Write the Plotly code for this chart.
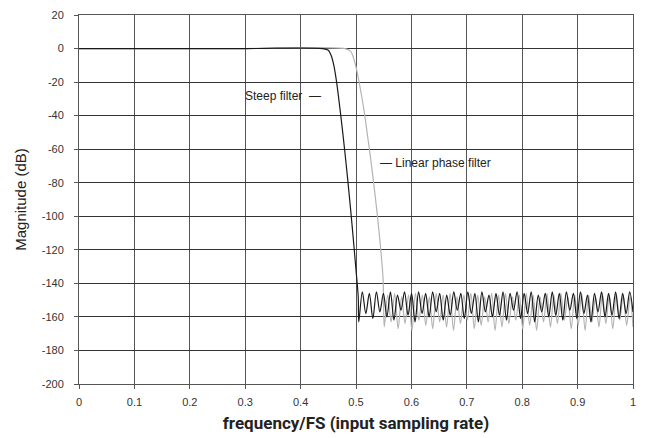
import plotly.graph_objects as go

# pass band / transition band (frequency/FS, dB)
steep_pass_f = [0.0, 0.30, 0.44, 0.45, 0.455, 0.46, 0.465, 0.47, 0.475, 0.48, 0.485, 0.49, 0.495, 0.50, 0.504]
steep_pass_db = [0, 0, 0, -1, -4, -10, -20, -33, -47, -62, -78, -95, -113, -132, -148]

linear_pass_f = [0.0, 0.30, 0.48, 0.49, 0.495, 0.50, 0.505, 0.51, 0.515, 0.52, 0.525, 0.53, 0.535, 0.54, 0.545, 0.549]
linear_pass_db = [0, 0, 0, -1.5, -5, -11, -19, -28, -38, -50, -62, -75, -89, -104, -121, -138]

# stop band ripple: nulls and lobe peaks
steep_null_f = [0.505, 0.5177, 0.5304, 0.5431, 0.5558, 0.5685, 0.5812, 0.5939, 0.6066, 0.6193,
                0.632, 0.6447, 0.6574, 0.6701, 0.6828, 0.6955, 0.7082, 0.7209, 0.7336, 0.7463,
                0.759, 0.7717, 0.7844, 0.7971, 0.8098, 0.8225, 0.8352, 0.8479, 0.8606, 0.8733,
                0.886, 0.8987, 0.9114, 0.9241, 0.9368, 0.9495, 0.9622, 0.9749, 0.9876, 1.0]
steep_null_db = [-163, -158, -161, -157, -160, -162, -156, -159, -163, -158,
                 -160, -157, -162, -159, -156, -161, -158, -163, -157, -160,
                 -159, -162, -156, -161, -158, -163, -157, -160, -159, -162,
                 -156, -161, -158, -163, -157, -160, -159, -161, -158, -157]
steep_peak_f = [0.5114, 0.5241, 0.5368, 0.5495, 0.5622, 0.5749, 0.5876, 0.6003, 0.613, 0.6257,
                0.6384, 0.6511, 0.6638, 0.6765, 0.6892, 0.7019, 0.7146, 0.7273, 0.74, 0.7527,
                0.7654, 0.7781, 0.7908, 0.8035, 0.8162, 0.8289, 0.8416, 0.8543, 0.867, 0.8797,
                0.8924, 0.9051, 0.9178, 0.9305, 0.9432, 0.9559, 0.9686, 0.9813, 0.994]
steep_peak_db = [-145, -146, -145, -146, -145, -147, -145, -146, -145, -146,
                 -145, -146, -147, -145, -146, -145, -146, -145, -147, -146,
                 -145, -146, -145, -146, -145, -147, -146, -145, -146, -145,
                 -146, -145, -147, -146, -145, -146, -145, -146, -145]

linear_null_f = [0.551, 0.5635, 0.576, 0.5885, 0.601, 0.6135, 0.626, 0.6385, 0.651, 0.6635,
                 0.676, 0.6885, 0.701, 0.7135, 0.726, 0.7385, 0.751, 0.7635, 0.776, 0.7885,
                 0.801, 0.8135, 0.826, 0.8385, 0.851, 0.8635, 0.876, 0.8885, 0.901, 0.9135,
                 0.926, 0.9385, 0.951, 0.9635, 0.976, 0.9885, 1.0]
linear_null_db = [-166, -163, -167, -164, -168, -162, -165, -167, -163, -166,
                  -168, -164, -162, -167, -165, -163, -168, -166, -164, -162,
                  -167, -165, -168, -163, -166, -164, -162, -167, -165, -168,
                  -163, -166, -164, -167, -162, -165, -166]
linear_peak_f = [0.5573, 0.5698, 0.5823, 0.5948, 0.6073, 0.6198, 0.6323, 0.6448, 0.6573, 0.6698,
                 0.6823, 0.6948, 0.7073, 0.7198, 0.7323, 0.7448, 0.7573, 0.7698, 0.7823, 0.7948,
                 0.8073, 0.8198, 0.8323, 0.8448, 0.8573, 0.8698, 0.8823, 0.8948, 0.9073, 0.9198,
                 0.9323, 0.9448, 0.9573, 0.9698, 0.9823, 0.9948]
linear_peak_db = [-147, -146, -148, -147, -146, -147, -148, -146, -147, -146,
                  -148, -147, -146, -147, -148, -146, -147, -146, -148, -147,
                  -146, -147, -148, -146, -147, -146, -148, -147, -146, -147,
                  -148, -146, -147, -146, -147, -148]

x_tick_vals = [0, 0.1, 0.2, 0.3, 0.4, 0.5, 0.6, 0.7, 0.8, 0.9, 1]
x_tick_text = ["0", "0.1", "0.2", "0.3", "0.4", "0.5", "0.6", "0.7", "0.8", "0.9", "1"]
y_tick_vals = [20, 0, -20, -40, -60, -80, -100, -120, -140, -160, -180, -200]
y_tick_text = ["20", "0", "-20", "-40", "-60", "-80", "-100", "-120", "-140", "-160", "-180", "-200"]


def build_curve(pass_f, pass_db, null_f, null_db, peak_f, peak_db):
    stop = sorted(zip(null_f + peak_f, null_db + peak_db))
    return pass_f + [p[0] for p in stop], pass_db + [p[1] for p in stop]


steep_f, steep_db = build_curve(steep_pass_f, steep_pass_db, steep_null_f, steep_null_db,
                                steep_peak_f, steep_peak_db)
linear_f, linear_db = build_curve(linear_pass_f, linear_pass_db, linear_null_f, linear_null_db,
                                  linear_peak_f, linear_peak_db)

fig = go.Figure()
fig.add_trace(go.Scatter(x=linear_f, y=linear_db, mode='lines', name='Linear phase filter',
                         line=dict(color='#b4b4b4', width=1.2, shape='spline', smoothing=0.9)))
fig.add_trace(go.Scatter(x=steep_f, y=steep_db, mode='lines', name='Steep filter',
                         line=dict(color='#1a1a1a', width=1.2, shape='spline', smoothing=0.9)))

fig.add_annotation(x=0.44, y=-28, text="Steep filter  \u2014", showarrow=False,
                   xanchor='right', yanchor='middle',
                   font=dict(family="Liberation Sans, Arial", size=12, color='#222'))
fig.add_annotation(x=0.54, y=-68, text="\u2014 Linear phase filter", showarrow=False,
                   xanchor='left', yanchor='middle',
                   font=dict(family="Liberation Sans, Arial", size=12, color='#222'))

# the page body adds an 8px offset, so the figure is sized to fill the rest of the window
fig.update_layout(
    width=638, height=430,
    paper_bgcolor='white',
    plot_bgcolor='white',
    showlegend=False,
    margin=dict(l=71, r=13, t=7, b=54),
    font=dict(family="Liberation Sans, Arial", color='#333'),
    xaxis=dict(
        range=[0, 1], tickvals=x_tick_vals, ticktext=x_tick_text, automargin=False,
        ticklabeloverflow='allow', ticklabelstandoff=4,
        showgrid=True, gridcolor='#555', gridwidth=1,
        showline=True, linecolor='#555', linewidth=1, mirror=True,
        ticks='outside', ticklen=4, tickcolor='#555',
        tickfont=dict(size=11, color='#333'),
        zeroline=False,
        title=dict(text="<b>frequency/FS (input sampling rate)</b>", standoff=9,
                   font=dict(family="Liberation Sans Narrow, Roboto, Arial", size=17, color='#222')),
    ),
    yaxis=dict(
        range=[-200, 20], tickvals=y_tick_vals, ticktext=y_tick_text, automargin=False,
        ticklabeloverflow='allow', ticklabelstandoff=8,
        showgrid=True, gridcolor='#333', gridwidth=1,
        showline=True, linecolor='#555', linewidth=1, mirror=True,
        ticks='outside', ticklen=4, tickcolor='#555',
        tickfont=dict(size=11, color='#333'),
        zeroline=False,
        title=dict(text="Magnitude (dB)", standoff=11,
                   font=dict(family="Liberation Sans, Arial", size=15, color='#222')),
    ),
)

fig.write_html("out.html")
